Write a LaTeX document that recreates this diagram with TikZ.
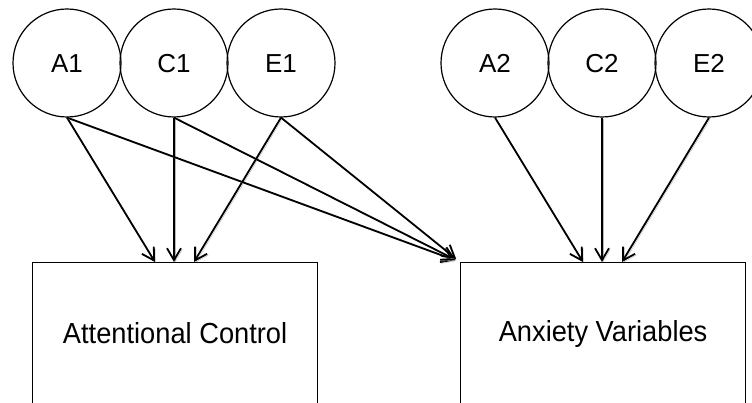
\documentclass[tikz,border=0pt]{standalone}
\usepackage{fontspec}
\setmainfont{Liberation Sans}
\newfontfamily\boxfont[FakeStretch=0.94]{Liberation Sans}
\usetikzlibrary{arrows.meta,positioning}

\begin{document}
\begin{tikzpicture}[x=1pt,y=-1pt,
  latent/.style={circle,draw,line width=1.2pt,minimum size=108pt,inner sep=0pt,
    text height=18.7pt,text depth=0pt,font=\fontsize{26}{30}\selectfont},
  measured/.style={rectangle,draw,line width=1.2pt,minimum width=285pt,minimum height=142pt,
    anchor=north west,inner sep=0pt,font=\boxfont\fontsize{29}{34}\selectfont},
  effect/.style={-{Straight Barb[length=12pt,width=14pt,line width=1.8pt]},line width=1.8pt,
    preaction={draw=gray!55,transform canvas={shift={(1.3pt,-1.3pt)}}}}]
\useasboundingbox (0,0) rectangle (752,403);
\clip (0,0) rectangle (752,403);

% latent factors
\node[latent] (A1) at (67,63) {A1};
\node[latent] (C1) at (174,63) {C1};
\node[latent] (E1) at (281,63) {E1};

\node[latent] (A2) at (495,63) {A2};
\node[latent] (C2) at (602,63) {C2};
\node[latent] (E2) at (709,63) {E2};

% observed
\node[measured] (AC) at (32,262) {Attentional Control};
\node[measured] (AV) at (460,262) {Anxiety Variables};

\draw[effect] (A1.south) -- ([xshift=123pt]AC.north west);
\draw[effect] (C1.south) -- ([xshift=142pt]AC.north west);
\draw[effect] (E1.south) -- ([xshift=162pt]AC.north west);

\draw[effect,shorten >=5pt] (A1.south) -- (AV.north west);
\draw[effect,shorten >=5pt] (C1.south) -- (AV.north west);
\draw[effect,shorten >=5pt] (E1.south) -- (AV.north west);

\draw[effect] (A2.south) -- ([xshift=123pt]AV.north west);
\draw[effect] (C2.south) -- ([xshift=142pt]AV.north west);
\draw[effect] (E2.south) -- ([xshift=162pt]AV.north west);

\end{tikzpicture}
\end{document}
